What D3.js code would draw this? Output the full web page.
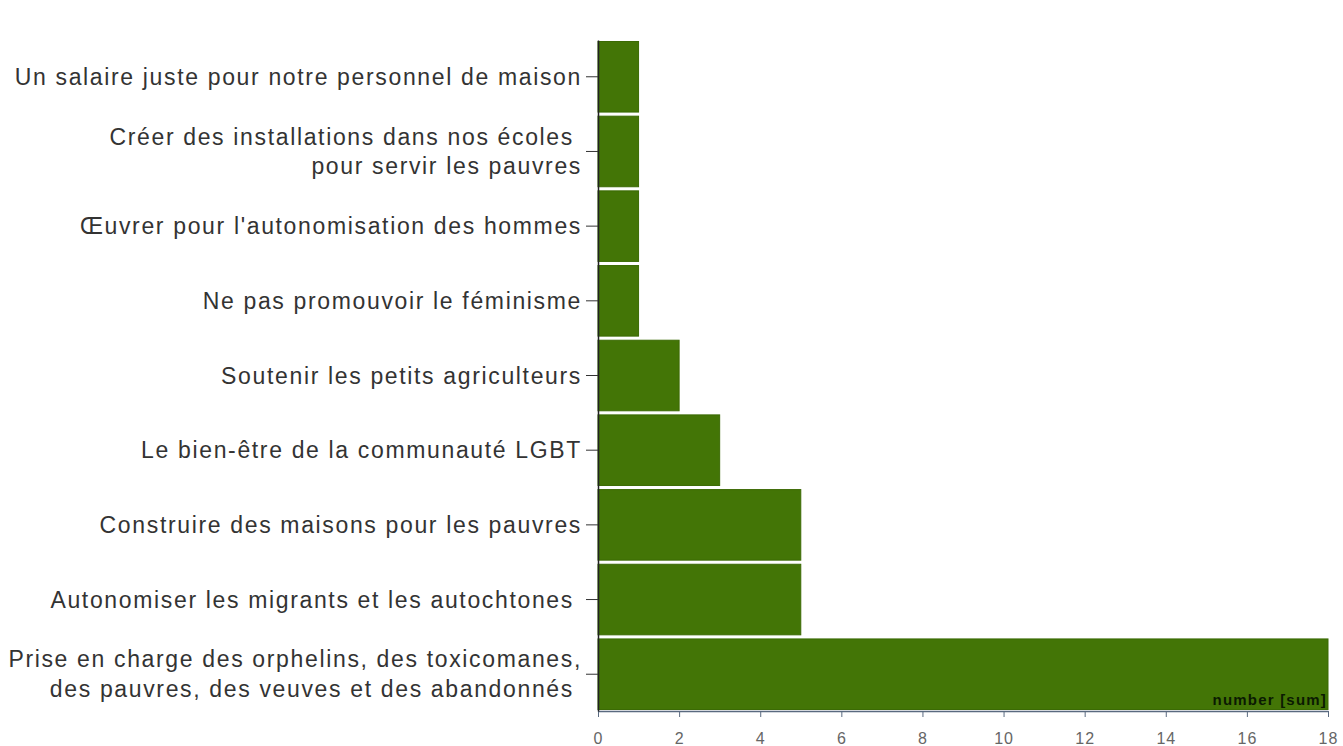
<!DOCTYPE html>
<html>
<head>
<meta charset="utf-8">
<script src="https://cdn.jsdelivr.net/npm/d3@7"></script>
<style>
  body { margin: 0; background: #fff; }
  .y-axis text { font-family: "Liberation Sans", Arial, sans-serif; font-size: 23px; letter-spacing: 1.65px; fill: #333; }
  .x-axis text { font-family: "Liberation Sans", Arial, sans-serif; font-size: 16px; letter-spacing: 1px; fill: #666; }
</style>
</head>
<body>
<div class="chart"></div>
<script>
var svgWidth = 1343;
var svgHeight = 746;

var margin = { top: 40, right: 15, bottom: 35, left: 598 };

var width = svgWidth - margin.left - margin.right;
var height = svgHeight - margin.top - margin.bottom;

// categories, top to bottom (lines split with "|")
var categories = [
  "Un salaire juste pour notre personnel de maison",
  "Créer des installations dans nos écoles |pour servir les pauvres",
  "Œuvrer pour l'autonomisation des hommes",
  "Ne pas promouvoir le féminisme",
  "Soutenir les petits agriculteurs",
  "Le bien-être de la communauté LGBT",
  "Construire des maisons pour les pauvres",
  "Autonomiser les migrants et les autochtones ",
  "Prise en charge des orphelins, des toxicomanes,|des pauvres, des veuves et des abandonnés "
];
var values = [1, 1, 1, 1, 2, 3, 5, 5, 18];
var xTicks = [0, 2, 4, 6, 8, 10, 12, 14, 16, 18];

var svg = d3.select(".chart")
  .append("svg")
  .attr("width", svgWidth)
  .attr("height", svgHeight);

var chartGroup = svg.append("g")
  .attr("transform", `translate(${margin.left}, ${margin.top})`);

var xScale = d3.scaleLinear()
  .domain([0, 18])
  .range([0, width]);

var yScale = d3.scaleBand()
  .domain(categories)
  .range([0, height])
  .paddingInner(0.055)
  .paddingOuter(0.02);

// bars
chartGroup.selectAll("rect.bar")
  .data(categories)
  .enter()
  .append("rect")
  .attr("class", "bar")
  .attr("x", 0)
  .attr("y", d => yScale(d))
  .attr("width", (d, i) => xScale(values[i]))
  .attr("height", yScale.bandwidth())
  .attr("fill", "#437506")
  .attr("stroke", "#3b6a04")
  .attr("stroke-width", 1);

// x axis
var xAxis = chartGroup.append("g")
  .attr("class", "x-axis")
  .attr("transform", `translate(0, ${height})`)
  .call(d3.axisBottom(xScale).tickValues(xTicks).tickSize(6).tickSizeOuter(0));
xAxis.select(".domain").attr("stroke", "#5a6a80").attr("stroke-width", 1.5);
xAxis.selectAll(".tick line").attr("stroke", "#5a6a80");
xAxis.selectAll(".tick text").attr("y", 22).attr("dy", "0.71em");

// y axis
var yAxis = chartGroup.append("g")
  .attr("class", "y-axis")
  .call(d3.axisLeft(yScale).tickSize(12).tickSizeOuter(0).tickFormat(""));
yAxis.select(".domain").attr("stroke", "#222").attr("stroke-width", 1.5);
yAxis.selectAll(".tick line").attr("stroke", "#333");

// multi-line category labels
yAxis.selectAll(".tick").each(function(d) {
  var lines = d.split("|");
  var t = d3.select(this).append("text")
    .attr("x", -16)
    .attr("text-anchor", "end")
    .style("white-space", "pre");
  lines.forEach(function(line, i) {
    t.append("tspan")
      .attr("x", -16)
      .attr("dy", i === 0 ? (0.35 - (lines.length - 1) * 0.65) + "em" : "1.3em")
      .text(line);
  });
});

// measure label
chartGroup.append("text")
  .attr("x", width - 1)
  .attr("y", height - 6)
  .attr("text-anchor", "end")
  .style("font-family", "Liberation Sans, Arial, sans-serif")
  .style("font-size", "15px")
  .style("font-weight", "bold")
  .style("letter-spacing", "1.2px")
  .attr("fill", "#0b1a02")
  .text("number [sum]");
</script>
</body>
</html>
